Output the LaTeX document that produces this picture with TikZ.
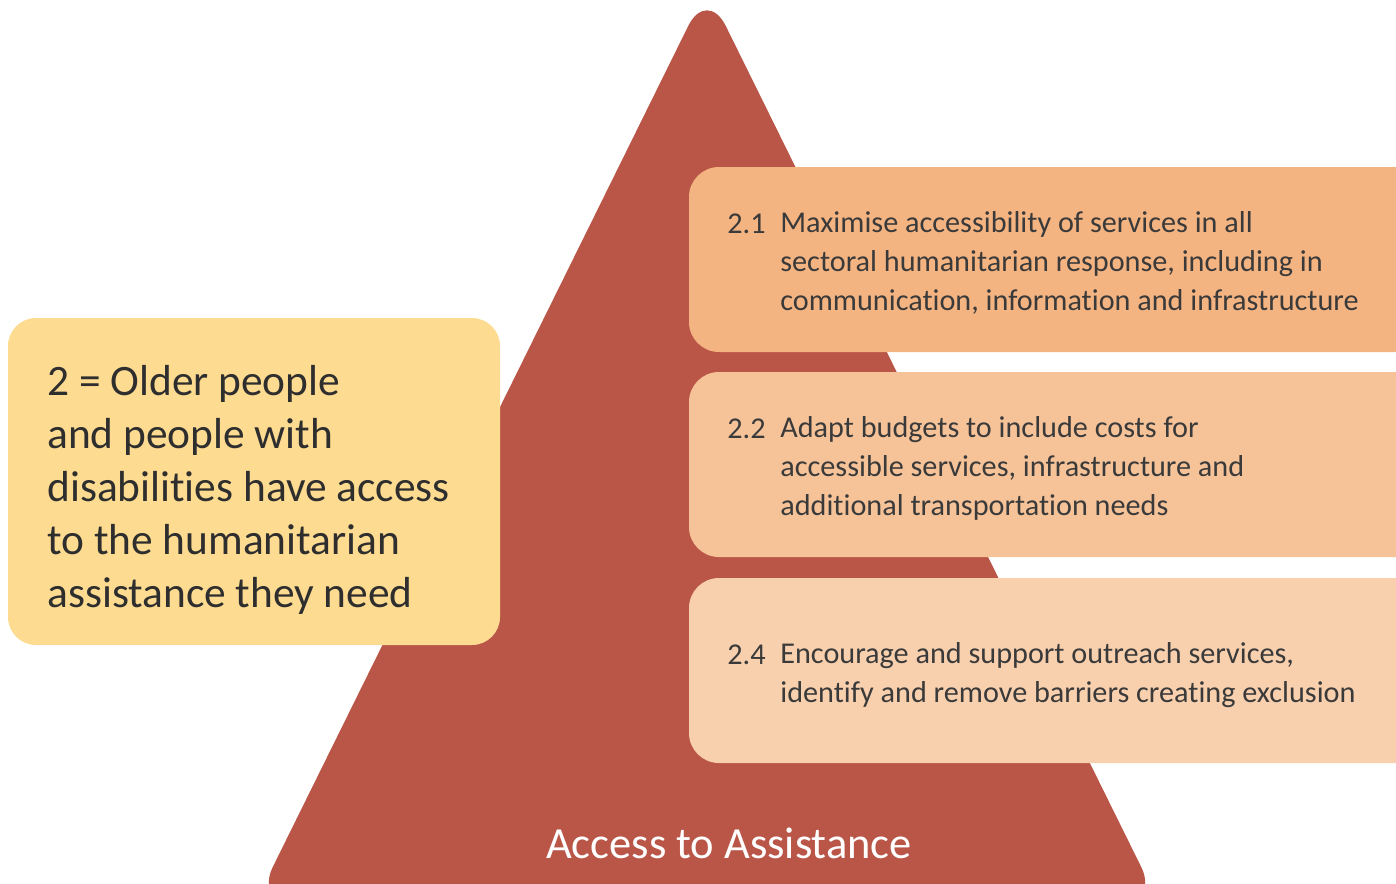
\documentclass[tikz,border=0pt]{standalone}
\usepackage{fontspec}
\setmainfont{Carlito}[Ligatures=NoCommon]
\definecolor{pyramid}{HTML}{B95647}
\definecolor{goalfill}{HTML}{FDDB91}
\definecolor{actA}{HTML}{F4B482}
\definecolor{actB}{HTML}{F6C399}
\definecolor{actC}{HTML}{F8D0AE}
\definecolor{inkgrey}{HTML}{2E2E2E}
\definecolor{actgrey}{HTML}{3A3A3A}
\tikzset{
  goalbox/.style={fill=goalfill, rounded corners=0.56cm},
  actbox/.style={rounded corners=0.6cm},
  actnum/.style={anchor=base west, inner sep=0pt, text=actgrey, font=\fontsize{17.2}{22.2}\selectfont},
  acttext/.style={anchor=base west, inner sep=0pt, align=left, text=actgrey, font=\fontsize{17.2}{22.2}\selectfont},
}
\begin{document}
\begin{tikzpicture}[x=0.02cm, y=-0.02cm]
            \useasboundingbox (0,0) rectangle (1396,883);
            \clip (0,0) rectangle (1396,883);
            % pyramid
            \fill [pyramid, rounded corners=0.85cm] (707,-12) -- (1160,905) -- (254,905) -- cycle;
            \node [text=white, font=\fontsize{25.3}{30}\selectfont] (pyrtitle) at (729,843) {Access to Assistance};
            % goal box
            \fill [goalbox] (8,318) rectangle (500,645);
            \node [anchor=north west, inner sep=0pt, align=left, text=inkgrey,
                font=\fontsize{24.7}{30.2}\selectfont] (goal) at (47,365)
                {2 = Older people\\and people with\\disabilities have access\\to the humanitarian\\assistance they need};
            % action boxes
            \fill [actbox, actA] (689,167) rectangle (1425,352);
            \fill [actbox, actB] (689,372) rectangle (1425,557);
            \fill [actbox, actC] (689,578) rectangle (1425,763);
            \node [actnum] (num21) at (727,233) {2.1};
            \node [acttext, anchor=north west] (txt21) at (780,211) {Maximise accessibility of services in all\\sectoral humanitarian response, including in\\communication, information and infrastructure};
            \node [actnum] (num22) at (727,438) {2.2};
            \node [acttext, anchor=north west] (txt22) at (780,416) {Adapt budgets to include costs for\\accessible services, infrastructure and\\additional transportation needs};
            \node [actnum] (num24) at (727,664) {2.4};
            \node [acttext, anchor=north west] (txt24) at (780,642) {Encourage and support outreach services,\\identify and remove barriers creating exclusion};
        \end{tikzpicture}
\end{document}
